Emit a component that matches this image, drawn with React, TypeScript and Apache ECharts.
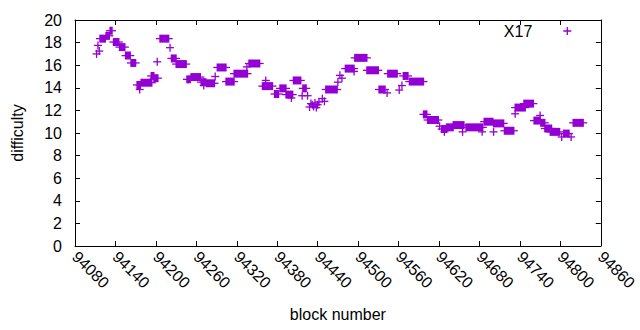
import React, { useEffect, useRef } from "react";
import * as echarts from "echarts";

// Runs of consecutive blocks sharing one difficulty (single points have start === end)
const blockStart = [
  94112, 94114, 94116, 94117, 94126, 94132, 94137, 94146, 94155, 94163,
  94172, 94176, 94178, 94193, 94197, 94202, 94206, 94221, 94223, 94230,
  94246, 94252, 94267, 94271, 94275, 94288, 94291, 94304, 94316, 94335,
  94338, 94358, 94363, 94376, 94384, 94393, 94401, 94404, 94417, 94418,
  94425, 94428, 94430, 94432, 94434, 94436, 94438, 94440, 94442, 94447,
  94450, 94452, 94470, 94473, 94476, 94481, 94494, 94495, 94513, 94531,
  94543, 94544, 94561, 94565, 94567, 94576, 94597, 94603, 94621, 94624,
  94628, 94631, 94641, 94655, 94660, 94684, 94687, 94701, 94701, 94717,
  94733, 94733, 94746, 94761, 94770, 94771, 94777, 94785, 94802, 94805,
  94816, 94819,
];
const blockEnd = [
  94112, 94114, 94116, 94125, 94131, 94135, 94145, 94154, 94162, 94170,
  94177, 94176, 94194, 94197, 94203, 94202, 94219, 94221, 94230, 94245,
  94251, 94266, 94274, 94271, 94287, 94288, 94304, 94316, 94336, 94335,
  94354, 94373, 94363, 94382, 94393, 94403, 94401, 94415, 94417, 94423,
  94425, 94428, 94430, 94432, 94434, 94436, 94438, 94440, 94442, 94447,
  94450, 94469, 94470, 94473, 94476, 94494, 94494, 94513, 94530, 94540,
  94543, 94558, 94561, 94565, 94574, 94597, 94602, 94619, 94621, 94631,
  94628, 94641, 94657, 94655, 94685, 94684, 94700, 94701, 94716, 94731,
  94733, 94748, 94760, 94770, 94770, 94777, 94787, 94799, 94802, 94813,
  94816, 94834,
];
const difficulty = [
  17.0, 17.75, 17.25, 18.35, 18.6, 19.05, 18.05, 17.6, 16.85, 16.2,
  14.25, 13.85, 14.45, 15.05, 14.85, 16.3, 18.35, 17.55, 16.6, 16.1,
  14.75, 14.95, 14.5, 14.2, 14.4, 15.0, 15.8, 14.55, 15.25, 15.85,
  16.15, 14.15, 14.65, 13.45, 13.95, 13.4, 13.1, 14.65, 13.3, 13.95,
  13.3, 12.3, 12.6, 12.5, 12.35, 12.65, 12.25, 12.5, 12.75, 13.05,
  12.8, 13.85, 14.5, 15.1, 14.85, 15.7, 15.45, 16.65, 15.55, 13.85,
  13.55, 15.25, 13.8, 14.2, 15.05, 14.55, 11.65, 11.15, 10.6, 10.35,
  10.1, 10.5, 10.7, 10.1, 10.5, 10.1, 11.0, 10.1, 10.85, 10.2,
  11.7, 12.25, 12.6, 11.1, 11.55, 10.9, 10.4, 10.1, 9.65, 9.95,
  9.65, 10.9,
];

const seriesName = "X17";
const xTitle = "block number";
const yTitle = "difficulty";
const xMin = 94080;
const xMax = 94860;
const xStep = 60;
const yMin = 0;
const yMax = 20;
const yStep = 2;

const COLOR = "#9400d3";
const FONT = "Liberation Sans, Arial, sans-serif";
const FS = 16;

export default function App() {
  const ref = useRef<HTMLDivElement>(null);

  useEffect(() => {
    if (!ref.current) return;
    const chart = echarts.init(ref.current, null, { renderer: "svg" });
    const data = blockStart.map((s, i) => [s, blockEnd[i], difficulty[i]]);
    const half = 4;
    const tickStyle = { show: true, inside: true, length: 5, lineStyle: { color: "#000", width: 1 } };
    const lineStyle = { show: true, onZero: false, lineStyle: { color: "#000", width: 1 } };

    chart.setOption({
      animation: false,
      backgroundColor: "#fff",
      textStyle: { fontFamily: FONT },
      grid: { left: 75, right: 30, top: 20, bottom: 84 },
      legend: {
        show: true,
        right: 42.7,
        top: 23,
        padding: 0,
        align: "right",
        itemWidth: 60,
        itemHeight: 8,
        textStyle: { fontSize: FS, color: "#000", fontFamily: FONT },
        data: [
          {
            name: seriesName,
            icon:
              "path://M0,4L0,4ZM60,4L60,4ZM26,3.35L34,3.35L34,4.65L26,4.65ZM29.35,0L30.65,0L30.65,8L29.35,8Z",
          },
        ],
      },
      xAxis: [
        {
          type: "value",
          position: "bottom",
          min: xMin,
          max: xMax,
          interval: xStep,
          name: xTitle,
          nameLocation: "middle",
          nameGap: 60,
          nameTextStyle: { fontSize: FS, color: "#000", fontFamily: FONT },
          axisLine: lineStyle,
          axisTick: tickStyle,
          splitLine: { show: false },
          axisLabel: {
            rotate: -45,
            margin: 8,
            fontSize: FS,
            color: "#000",
            fontFamily: FONT,
            showMinLabel: true,
            showMaxLabel: true,
            formatter: (v: number) => String(v),
          },
        },
        {
          type: "value",
          position: "top",
          min: xMin,
          max: xMax,
          interval: xStep,
          axisLine: lineStyle,
          axisTick: tickStyle,
          axisLabel: { show: false },
          splitLine: { show: false },
        },
      ],
      yAxis: [
        {
          type: "value",
          position: "left",
          min: yMin,
          max: yMax,
          interval: yStep,
          name: yTitle,
          nameLocation: "middle",
          nameGap: 50,
          nameTextStyle: { fontSize: FS, color: "#000", fontFamily: FONT },
          axisLine: lineStyle,
          axisTick: tickStyle,
          splitLine: { show: false },
          axisLabel: { margin: 13, fontSize: FS, color: "#000", fontFamily: FONT },
        },
        {
          type: "value",
          position: "right",
          min: yMin,
          max: yMax,
          interval: yStep,
          axisLine: lineStyle,
          axisTick: tickStyle,
          axisLabel: { show: false },
          splitLine: { show: false },
        },
      ],
      series: [
        {
          type: "custom",
          name: seriesName,
          xAxisIndex: 0,
          yAxisIndex: 0,
          itemStyle: { color: COLOR },
          encode: { x: [0, 1], y: 2 },
          data,
          renderItem: (params: any, api: any) => {
            const s = api.value(0);
            const e = api.value(1);
            const d = api.value(2);
            const p0 = api.coord([s, d]);
            const p1 = api.coord([e, d]);
            return {
              type: "group",
              children: [
                {
                  type: "rect",
                  shape: { x: p0[0] - 0.65, y: p0[1] - half, width: p1[0] - p0[0] + 1.3, height: half * 2 },
                  style: { fill: COLOR },
                },
                {
                  type: "line",
                  shape: { x1: p0[0] - half, y1: p0[1], x2: p1[0] + half, y2: p1[1] },
                  style: { stroke: COLOR, lineWidth: 1.3 },
                },
              ],
            };
          },
        },
      ],
    });
    return () => chart.dispose();
  }, []);

  return (
    <div
      ref={ref}
      style={{ position: "fixed", left: 0, top: 0, width: 640, height: 330, background: "#fff" }}
    />
  );
}
